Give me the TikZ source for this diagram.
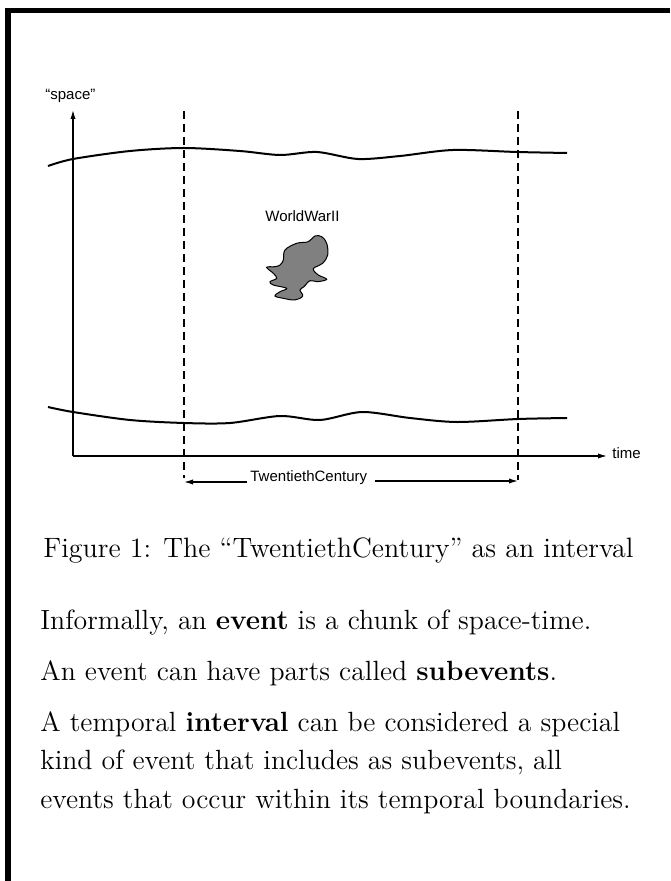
\documentclass[tikz,border=0pt]{standalone}
\usepackage{fontspec}
\newfontfamily\figsans{Liberation Sans}
\usetikzlibrary{arrows.meta,positioning}

\begin{document}
\begin{tikzpicture}[
    x=0.5pt, y=-0.5pt,
    % etichette della figura (stile xfig)
    figlabel/.style={font=\figsans\fontsize{7.5}{9}\selectfont, inner sep=0pt},
    captiontext/.style={font=\fontsize{14}{19.25}\selectfont, inner sep=0pt},
    bodytext/.style={font=\fontsize{13.9}{19.25}\selectfont, inner sep=0pt, align=left},
    worldline/.style={line width=1pt},
    boundary/.style={line width=0.75pt, dash pattern=on 4pt off 2.5pt},
    arrow/.style={line width=0.6pt, -{Latex[length=4.5pt,width=2.6pt]}}
  ]
  \useasboundingbox (0,0) rectangle (670,881);

  % Cornice
  \fill (5,8) rectangle (11,881);
  \fill (5,8) rectangle (670,13);

  % Assi
  \coordinate (origin) at (73,456);
  \coordinate (spacetip) at (73,110);
  \coordinate (timetip) at (607,456);
  \node (spacelbl) [figlabel, anchor=base west] at (45,100) {“space”};
  \node (timelbl) [figlabel, anchor=base west] at (612,458) {time};
  \draw [arrow] (origin) -- (spacetip);
  \draw [arrow] (origin) -- (timetip);

  % Linee di universo
  \draw [worldline] plot[smooth] coordinates {(48,166) (73,159) (130,151) (184,148) (240,151) (280,155)
    (317,152) (358,159) (400,156) (453,150) (517,152) (567,153)};
  \draw [worldline] plot[smooth] coordinates {(48,407) (73,412) (130,420) (184,423) (230,423) (280,416)
    (320,420) (362,412) (410,418) (457,422) (518,419) (567,418)};

  % Confini dell'intervallo
  \coordinate (lefttop) at (184,111);
  \coordinate (leftbound) at (184,482);
  \coordinate (righttop) at (518,111);
  \coordinate (rightbound) at (518,481);
  \draw [boundary] (lefttop) -- ([yshift=2pt]leftbound);
  \draw [boundary] (righttop) -- ([yshift=0.5pt]rightbound);

  \node (century) [figlabel, anchor=base west] at (250,481) {TwentiethCentury};
  \draw [arrow] ([xshift=-1.5pt]century.west |- leftbound) -- (leftbound);
  \draw [arrow] ([xshift=3.5pt]century.east |- rightbound) -- (rightbound);

  % Evento
  \node (wwtwo) [figlabel, anchor=base west] at (265,222) {WorldWarII};
  \filldraw [fill=black!50, line width=0.5pt] plot[smooth cycle, tension=0.6] coordinates {
    (285,250) (296.7,243.3) (308.3,241.7) (315,236) (321.7,236.7) (326.7,243.3) (327.7,255)
    (322.7,263.3) (315,267.3) (313.3,270) (318.3,275) (326.7,279.3) (317.3,281.7) (310,280.7)
    (304,286.7) (300,290) (302.7,296) (295,300) (283.3,298.3) (275,296) (280,291.7) (286.7,288.3)
    (273.3,285) (270,281.7) (276.7,278.3) (273.3,273.3) (266.7,267.3) (275,266.7) (280,265) (283.3,260)};

  % Didascalia e testo
  \node (caption) [captiontext, anchor=base west] at (43,557) {Figure 1: The ``TwentiethCentury'' as an interval};
  \node (informal) [bodytext, anchor=base west] at (40,629) {Informally, an \textbf{event} is a chunk of space-time.};
  \node (subev) [bodytext, anchor=base west] at (40,680) {An event can have parts called \textbf{subevents}.};
  % la base di un nodo su piu' righe e' l'ultima riga
  \node (interval) [bodytext, anchor=base west] at (40,808) {A temporal \textbf{interval} can be considered a special\\
    kind of event that includes as subevents, all\\
    events that occur within its temporal boundaries.};

\end{tikzpicture}
\end{document}
